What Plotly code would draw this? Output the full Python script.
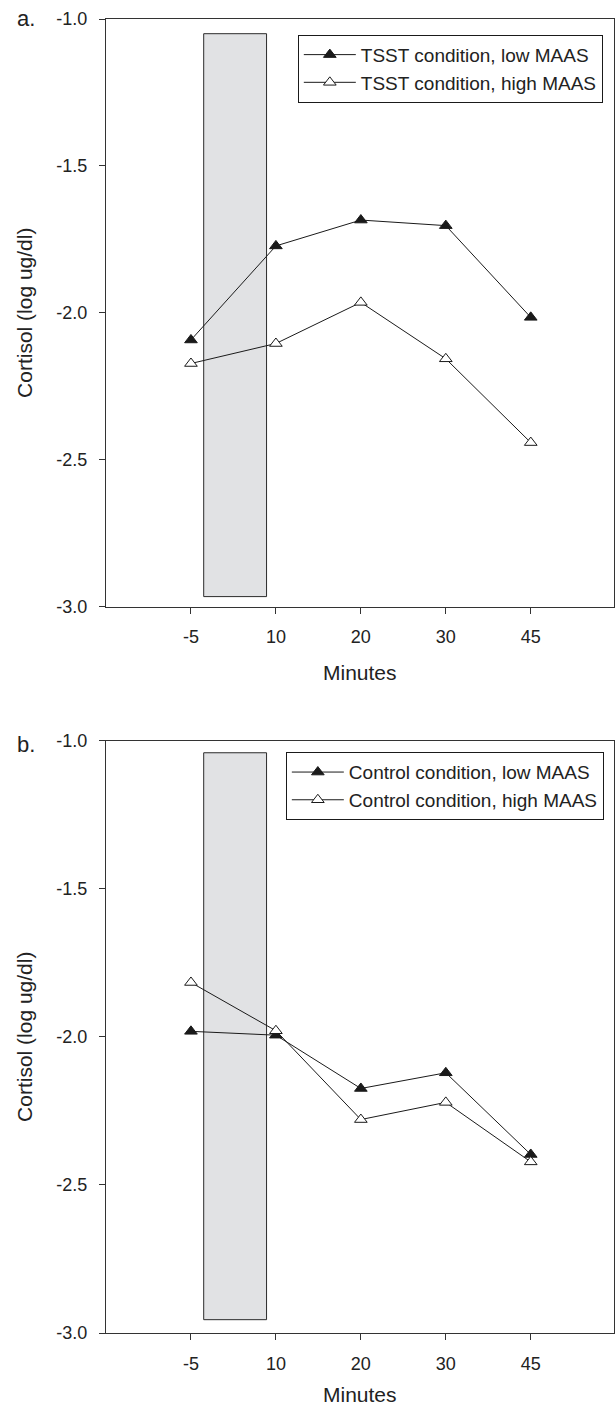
import plotly.graph_objects as go

# ---- data ----
minutes = ['-5', '10', '20', '30', '45']
tsst_low = [-2.092, -1.772, -1.684, -1.703, -2.015]
tsst_high = [-2.172, -2.104, -1.964, -2.156, -2.441]
control_low = [-1.981, -1.994, -2.174, -2.121, -2.397]
control_high = [-1.816, -1.979, -2.279, -2.221, -2.422]

# stress-period band (x in category index units, y in cortisol units)
band_x = [0.15, 0.89]
band_y_a = [-2.965, -1.05]
band_y_b = [-2.955, -1.04]

y_ticks = [-1.0, -1.5, -2.0, -2.5, -3.0]
y_ticktext = ['-1.0', '-1.5', '-2.0', '-2.5', '-3.0']

FONT = 'Liberation Sans, Arial, sans-serif'
INK = '#1a1a1a'
TXT = '#222222'

fig = go.Figure()


def add_pair(low, high, name_low, name_high, xa, ya, legend):
    fig.add_trace(go.Scatter(
        x=minutes, y=low, mode='lines+markers', name=name_low,
        xaxis=xa, yaxis=ya, legend=legend,
        line=dict(color=INK, width=1),
        marker=dict(symbol='triangle-up', size=11, color=INK,
                    line=dict(color=INK, width=1))))
    fig.add_trace(go.Scatter(
        x=minutes, y=high, mode='lines+markers', name=name_high,
        xaxis=xa, yaxis=ya, legend=legend,
        line=dict(color=INK, width=1),
        marker=dict(symbol='triangle-up', size=11, color='white',
                    line=dict(color=INK, width=1))))


add_pair(tsst_low, tsst_high, 'TSST condition, low MAAS',
         'TSST condition, high MAAS', 'x', 'y', 'legend')
add_pair(control_low, control_high, 'Control condition, low MAAS',
         'Control condition, high MAAS', 'x2', 'y2', 'legend2')

for xref, yref, by in (('x', 'y', band_y_a), ('x2', 'y2', band_y_b)):
    fig.add_shape(type='rect', xref=xref, yref=yref,
                  x0=band_x[0], x1=band_x[1], y0=by[0], y1=by[1],
                  fillcolor='#e1e2e4', line=dict(color='#2a2a2a', width=1),
                  layer='below')

xaxis_common = dict(
    type='category', range=[-1.0, 4.98], showgrid=False, zeroline=False,
    showline=True, linecolor='#333333', linewidth=1, mirror=True,
    ticks='outside', ticklen=6, tickcolor='#333333', tickwidth=1,
    ticklabelstandoff=8,
    tickfont=dict(family=FONT, size=18, color=TXT),
)
yaxis_common = dict(
    range=[-3.0, -1.0], showgrid=False, zeroline=False,
    showline=True, linecolor='#333333', linewidth=1, mirror=True,
    ticks='outside', ticklen=6, tickcolor='#333333', tickwidth=1,
    tickvals=y_ticks, ticktext=y_ticktext, ticklabelstandoff=8,
    tickfont=dict(family=FONT, size=18, color=TXT),
)

legend_common = dict(
    xanchor='right', yanchor='top', bgcolor='white',
    bordercolor='#1a1a1a', borderwidth=1,
    font=dict(family=FONT, size=19, color=TXT),
    itemwidth=52, tracegroupgap=0,
)

fig.update_layout(
    width=616, height=1408,
    margin=dict(l=106, r=2, t=19, b=75),
    plot_bgcolor='white', paper_bgcolor='white',
    showlegend=True,
    xaxis=dict(domain=[0, 1], anchor='y', **xaxis_common),
    yaxis=dict(domain=[0.5526, 1], anchor='x', **yaxis_common),
    xaxis2=dict(domain=[0, 1], anchor='y2', **xaxis_common),
    yaxis2=dict(domain=[0, 0.4506], anchor='x2', **yaxis_common),
    legend=dict(x=0.978, y=0.988, **legend_common),
    legend2=dict(x=0.98, y=0.442, **legend_common),
    annotations=[
        dict(text='a.', xref='paper', yref='paper', x=0, y=1, xshift=-80, yshift=1,
             xanchor='center', yanchor='middle', showarrow=False,
             font=dict(family=FONT, size=22, color=TXT)),
        dict(text='b.', xref='paper', yref='paper', x=0, y=0.4506, xshift=-80, yshift=-4,
             xanchor='center', yanchor='middle', showarrow=False,
             font=dict(family=FONT, size=22, color=TXT)),
        dict(text='Cortisol (log ug/dl)', xref='paper', yref='paper', x=0, y=0.7763,
             xshift=-81, textangle=-90, xanchor='center', yanchor='middle',
             showarrow=False, font=dict(family=FONT, size=21, color=TXT)),
        dict(text='Cortisol (log ug/dl)', xref='paper', yref='paper', x=0, y=0.2253,
             xshift=-81, textangle=-90, xanchor='center', yanchor='middle',
             showarrow=False, font=dict(family=FONT, size=21, color=TXT)),
        dict(text='Minutes', xref='paper', yref='paper', x=0.5, y=0.5526,
             yshift=-66, xanchor='center', yanchor='middle', showarrow=False,
             font=dict(family=FONT, size=21, color=TXT)),
        dict(text='Minutes', xref='paper', yref='paper', x=0.5, y=0,
             yshift=-75, xanchor='center', yanchor='bottom', showarrow=False,
             font=dict(family=FONT, size=21, color=TXT)),
    ],
)

fig.write_html('out.html', config={'displayModeBar': False},
               post_script="document.body.style.margin='0';document.body.style.overflow='hidden';")
